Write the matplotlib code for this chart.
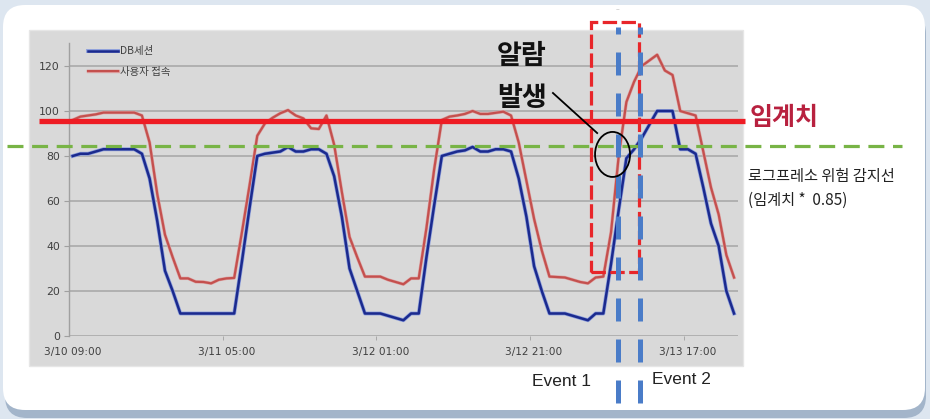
import matplotlib
matplotlib.use("Agg")
import matplotlib.pyplot as plt
import matplotlib.transforms as mtransforms
import matplotlib.patheffects as pe
from matplotlib.patches import Rectangle, Ellipse, FancyBboxPatch
import numpy as np

# ---------------- data (hourly, starting 3/10 09:00) ----------------
db_sessions = [80, 81, 81, 82, 83, 83, 83, 83, 83, 81,
               70, 51, 29, 20, 10, 10, 10, 10, 10, 10,
               10, 10, 33, 57, 80, 81, 81.5, 82, 84, 82,
               82, 83, 83, 81, 71, 53, 30, 20, 10, 10,
               10, 9, 8, 7, 10, 10, 35, 58, 80, 81,
               82, 82.5, 84, 82, 82, 83, 83, 82, 70, 53,
               31, 20, 10, 10, 10, 9, 8, 7, 10, 10,
               32, 56, 79, 83, 88, 94, 100, 100, 100, 83,
               83, 81, 66, 50, 40, 20, 10]
user_conn = [96, 97.5, 98, 98.5, 99.3, 99.3, 99.3, 99.3, 99.3, 98,
             86, 63, 45, 35, 25.6, 25.6, 24.1, 24, 23.4, 25,
             25.6, 25.8, 46, 67, 89, 94.5, 97, 99, 100.4, 98,
             96.7, 92.3, 92, 98, 85, 64, 44, 35, 26.4, 26.4,
             26.4, 25, 24, 23, 25.6, 25.6, 48, 74, 96, 97.5,
             98, 98.7, 100, 98.7, 98.7, 99.2, 99.7, 98, 86, 69,
             52, 38, 26.4, 26.2, 26, 25, 24, 23.4, 26, 26.4,
             46, 80, 104, 113, 120, 122.5, 125, 118, 116, 100,
             99, 98, 82, 66, 54, 36, 26]
tick_idx = [0, 20, 40, 60, 80]
tick_labels = ["3/10 09:00", "3/11 05:00", "3/12 01:00", "3/12 21:00", "3/13 17:00"]
y_ticks = [0, 20, 40, 60, 80, 100, 120]
series_names = ["DB세션", "사용자 접속"]

threshold = 95.5          # 임계치 line
detect_line = 84.4        # 로그프레소 위험 감지선
alarm_box = (67.4, 28.4, 6.2, 111.2)   # x, y, w, h (data units)
event_x = [70.9, 73.8]
alarm_ellipse = (70.2, 80.7, 4.55, 20)

# ---------------- figure ----------------
plt.rcParams["font.family"] = ["Noto Sans CJK KR", "DejaVu Sans"]
W, H = 930, 419
fig = plt.figure(figsize=(W / 100, H / 100), dpi=100)
fig.patch.set_facecolor("#dde6f0")
ident = mtransforms.IdentityTransform()

# shadow + white rounded panel
fig.add_artist(FancyBboxPatch((5, 1), 921, 406, boxstyle="round,pad=0,rounding_size=22",
                              fc="#a3b5ca", ec="none", transform=ident, zorder=-12))
fig.add_artist(FancyBboxPatch((3, 9), 922, 405, boxstyle="round,pad=0,rounding_size=22",
                              fc="white", ec="none", transform=ident, zorder=-10))
# gray chart background
fig.add_artist(Rectangle((29, H - 366), 714, 336, fc="#d9d9d9", ec="#e6e6e6", lw=1,
                         transform=ident, zorder=-5))


def fx(x):
    return x / W


def fy(y):
    return 1 - y / H


ax = fig.add_axes([fx(68.85), fy(336), (737.9 - 68.85) / W, (336 - 43.5) / H])
ax.set_facecolor("none")

idx = np.arange(len(db_sessions))
ax.plot(idx, user_conn, color="#c4504e", lw=1.6, zorder=3, label=series_names[1],
        path_effects=[pe.Stroke(linewidth=2.4, foreground="#dea3a3"), pe.Normal()])
ax.plot(idx, db_sessions, color="#1b2a8e", lw=1.8, zorder=4, label=series_names[0],
        path_effects=[pe.Stroke(linewidth=2.8, foreground="#8d9fdc"), pe.Normal()])

ax.set_xlim(-0.5, 86.5)
ax.set_ylim(0, 130)
ax.set_yticks(y_ticks)
ax.grid(axis="y", color="#a6a6a6", lw=1.1)
ax.set_axisbelow(True)
for s in ["top", "right", "bottom"]:
    ax.spines[s].set_visible(False)
ax.spines["left"].set_color("#a0a0a0")
ax.spines["left"].set_linewidth(1.0)
ax.tick_params(axis="y", length=3.5, color="#a0a0a0", pad=3, labelsize=7.8, labelcolor="#404040")
for lab in ax.get_yticklabels():
    lab.set_family("DejaVu Sans")
ax.set_xticks(tick_idx)
ax.set_xticklabels(tick_labels, family="DejaVu Sans")
ax.set_xticks([t - 0.5 for t in tick_idx[1:]], minor=True)
ax.tick_params(axis="x", which="major", length=0, pad=8, labelsize=7.6, labelcolor="#404040")
ax.tick_params(axis="x", which="minor", length=3, color="#a0a0a0")

h, l = ax.get_legend_handles_labels()
leg = ax.legend(h[::-1], l[::-1], loc="upper left", bbox_to_anchor=(0.0286, 0.99),
                frameon=False, fontsize=7.5, labelspacing=1.0, handlelength=2.9,
                handletextpad=0.2, borderpad=0, borderaxespad=0)
for t in leg.get_texts():
    t.set_color("#404040")

# ---------------- annotations ----------------
blend = mtransforms.blended_transform_factory(ax.transAxes, ax.transData)
ax.plot([-0.0924, 1.2453], [detect_line, detect_line], transform=blend, color="#78b446",
        lw=2.3, linestyle=(0, (5, 2.7)), clip_on=False, zorder=6)
ax.plot([-0.0446, 1.0106], [threshold, threshold], transform=blend, color="#ee1c24",
        lw=3.8, clip_on=False, zorder=7, solid_capstyle="butt")

bx, by, bw, bh = alarm_box
ax.add_patch(Rectangle((bx, by), bw, bh, fill=False, ec="#e8262a", lw=2.3,
                       linestyle=(0, (4.5, 1.4)), clip_on=False, zorder=8))
for ex in event_x:
    ax.plot([ex, ex], [-29.8, 137.3], color="#4a7cc8", lw=3.6,
            linestyle=(0, (4.6, 3.6)), clip_on=False, zorder=9)
ex0, ey0, ew, eh = alarm_ellipse
ax.add_patch(Ellipse((ex0, ey0), ew, eh, fill=False, ec="black", lw=1.3,
                     clip_on=False, zorder=10))
ax.plot([62.45, 68.2], [108, 90.2], color="black", lw=1.3, clip_on=False, zorder=10)

fig.text(fx(521.5), fy(55.5), "알람", ha="center", va="center", fontsize=19.5,
         weight="bold", color="#111111")
fig.text(fx(522.5), fy(98.5), "발생", ha="center", va="center", fontsize=19.5,
         weight="bold", color="#111111")
fig.text(fx(750), fy(118), "임계치", ha="left", va="center", fontsize=18,
         weight="bold", color="#b8213f")
fig.text(fx(748), fy(176), "로그프레소 위험 감지선", ha="left", va="center",
         fontsize=11, color="#222222")
fig.text(fx(748), fy(200), "(임계치 *  0.85)", ha="left", va="center",
         fontsize=11, color="#222222")
fig.text(fx(532), fy(381), "Event 1", ha="left", va="center", fontsize=12.5,
         family="Liberation Sans", color="#222222")
fig.text(fx(652), fy(379), "Event 2", ha="left", va="center", fontsize=12.5,
         family="Liberation Sans", color="#222222")
fig.text(fx(618), fy(10), "–", ha="center", va="center", fontsize=5, color="#aaaaaa")

fig.savefig("out.png", dpi=100)
